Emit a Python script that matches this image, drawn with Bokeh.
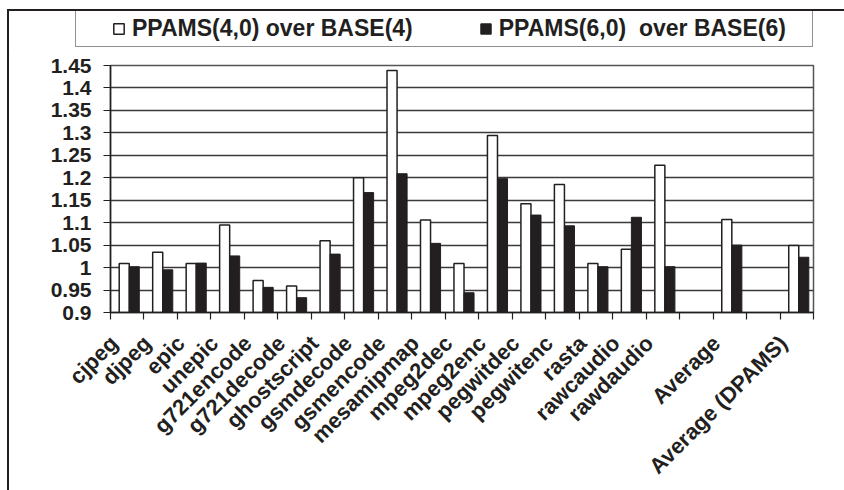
import math
from bokeh.plotting import figure
from bokeh.layouts import column
from bokeh.models import (Range1d, FixedTicker, Legend, LegendItem, ColumnDataSource)
from bokeh.embed import file_html
from bokeh.resources import INLINE

categories = ["cjpeg", "djpeg", "epic", "unepic", "g721encode", "g721decode",
              "ghostscript", "gsmdecode", "gsmencode", "mesamipmap", "mpeg2dec",
              "mpeg2enc", "pegwitdec", "pegwitenc", "rasta", "rawcaudio",
              "rawdaudio", "", "Average", "", "Average (DPAMS)"]
ppams4_over_base4 = [1.009, 1.034, 1.009, 1.095, 0.971, 0.959, 1.060, 1.200, 1.439,
                     1.106, 1.009, 1.294, 1.142, 1.185, 1.009, 1.041, 1.228, None,
                     1.107, None, 1.049]
ppams6_over_base6 = [1.002, 0.995, 1.010, 1.026, 0.956, 0.933, 1.030, 1.167, 1.209,
                     1.054, 0.944, 1.198, 1.117, 1.093, 1.002, 1.112, 1.002, None,
                     1.050, None, 1.023]
series_labels = ["PPAMS(4,0) over BASE(4)", "PPAMS(6,0)  over BASE(6)"]
y_ticks = [0.9, 0.95, 1.0, 1.05, 1.1, 1.15, 1.2, 1.25, 1.3, 1.35, 1.4, 1.45]
y_tick_labels = ["0.9", "0.95", "1", "1.05", "1.1", "1.15", "1.2", "1.25", "1.3",
                 "1.35", "1.4", "1.45"]

FONT = "Liberation Sans"
INK = "#231f20"
BASE = 0.9

# layout (pixels)
OX, OY = 9, 11            # page position of the content (after CSS margin + border)
W = 844 - OX
LEG_H = 44
MAIN_H = 490 - OY - LEG_H
FRAME_L, FRAME_R = 110 - OX, 813 - OX
FRAME_T = 65 - OY - LEG_H
FRAME_H = 248

n = len(categories)
idx4 = [i for i, v in enumerate(ppams4_over_base4) if v is not None]
idx6 = [i for i, v in enumerate(ppams6_over_base6) if v is not None]
src4 = ColumnDataSource(dict(x=[i + 0.41 for i in idx4], top=[ppams4_over_base4[i] for i in idx4]))
src6 = ColumnDataSource(dict(x=[i + 0.71 for i in idx6], top=[ppams6_over_base6[i] for i in idx6]))

# ---------------- legend strip ----------------
lf = figure(width=W, height=LEG_H, output_backend="svg", toolbar_location=None,
            x_range=Range1d(0, 1), y_range=Range1d(0, 1),
            x_axis_location=None, y_axis_location=None, frame_align=False,
            min_border_left=0, min_border_right=0, min_border_top=0, min_border_bottom=0)
lf.grid.visible = False
lf.outline_line_color = None
lf.background_fill_color = "white"
lf.border_fill_color = "white"

# legend swatch renderers: a single point kept outside the visible range
swatch = dict(x=[-5], top=[-5])
d4 = lf.vbar(x="x", top="top", width=0.1, source=ColumnDataSource(swatch),
             fill_color="white", line_color=INK, line_width=1.5)
d6 = lf.vbar(x="x", top="top", width=0.1, source=ColumnDataSource(swatch),
             fill_color=INK, line_color=INK, line_width=1)
dn = lf.vbar(x="x", top="top", width=0.1, source=ColumnDataSource(swatch),
             fill_alpha=0, line_alpha=0)

box_l, box_r, box_t, box_b = 75 - OX, 811 - OX, 12 - OY, 47 - OY
box = Legend(items=[LegendItem(label=" ", renderers=[dn])],
             location=(box_l, LEG_H - box_b), orientation="horizontal",
             padding=0, margin=0, spacing=0, label_standoff=0,
             glyph_width=1, glyph_height=box_b - box_t,
             label_width=box_r - box_l - 1, label_height=box_b - box_t,
             label_text_font_size="2px",
             border_line_color=INK, border_line_width=1.5,
             background_fill_color="white", background_fill_alpha=1)
lf.add_layout(box, "center")

item_t, item_b = 17 - OY, 42 - OY
leg = Legend(items=[LegendItem(label=series_labels[0], renderers=[d4]),
                    LegendItem(label=series_labels[1], renderers=[d6])],
             location=(112 - OX, LEG_H - item_b), orientation="horizontal",
             padding=0, margin=0, spacing=66, label_standoff=7,
             glyph_width=13, glyph_height=13, label_height=item_b - item_t,
             label_text_font=FONT, label_text_font_style="bold",
             label_text_font_size="23px", label_text_color=INK,
             border_line_color=None, background_fill_alpha=0)
lf.add_layout(leg, "center")

# ---------------- main chart ----------------
p = figure(width=W, height=MAIN_H, output_backend="svg", toolbar_location=None,
           x_range=Range1d(0, n), y_range=Range1d(BASE, 1.45), frame_align=False,
           min_border_left=FRAME_L, min_border_right=W - FRAME_R,
           min_border_top=FRAME_T, min_border_bottom=MAIN_H - FRAME_T - FRAME_H)

p.vbar(x="x", top="top", bottom=BASE, width=0.3, source=src4,
       fill_color="white", line_color=INK, line_width=1.5)
p.vbar(x="x", top="top", bottom=BASE, width=0.3, source=src6,
       fill_color=INK, line_color=INK, line_width=1)

label_pos = [i + 0.1 for i in range(n)]
bounds = list(range(n + 1))
p.xaxis.ticker = FixedTicker(ticks=label_pos, minor_ticks=bounds)
p.xaxis.major_label_overrides = {c: lab for c, lab in zip(label_pos, categories)}
p.xaxis.major_label_orientation = math.pi / 4
p.xaxis.major_tick_line_color = None
p.xaxis.major_tick_out = 0
p.xaxis.major_tick_in = 0
p.xaxis.minor_tick_line_color = INK
p.xaxis.minor_tick_line_width = 1.2
p.xaxis.minor_tick_out = 7
p.xaxis.minor_tick_in = 0
p.xaxis.axis_line_color = INK
p.xaxis.axis_line_width = 1.5
p.xaxis.major_label_text_font = FONT
p.xaxis.major_label_text_font_style = "bold"
p.xaxis.major_label_text_font_size = "22px"
p.xaxis.major_label_text_color = INK
p.xaxis.major_label_standoff = 20

p.yaxis.ticker = FixedTicker(ticks=y_ticks)
p.yaxis.major_label_overrides = {t: lab for t, lab in zip(y_ticks, y_tick_labels)}
p.yaxis.major_tick_out = 7
p.yaxis.major_tick_in = 0
p.yaxis.major_tick_line_color = INK
p.yaxis.major_tick_line_width = 1.2
p.yaxis.minor_tick_line_color = None
p.yaxis.axis_line_color = INK
p.yaxis.axis_line_width = 1.5
p.yaxis.major_label_text_font = FONT
p.yaxis.major_label_text_font_style = "bold"
p.yaxis.major_label_text_font_size = "21px"
p.yaxis.major_label_text_color = INK
p.yaxis.major_label_standoff = 12

p.xgrid.grid_line_color = None
p.ygrid.grid_line_color = "#3a3a3a"
p.ygrid.grid_line_width = 1.4
p.outline_line_color = "#555555"
p.outline_line_width = 1.5
p.background_fill_color = "white"
p.border_fill_color = "white"

layout = column(lf, p, spacing=0,
                styles={"margin-left": "7px", "margin-top": "9px",
                        "border-left": "2px solid #231f20",
                        "border-top": "2px solid #231f20"})

open("out.html", "w").write(file_html(layout, INLINE))
